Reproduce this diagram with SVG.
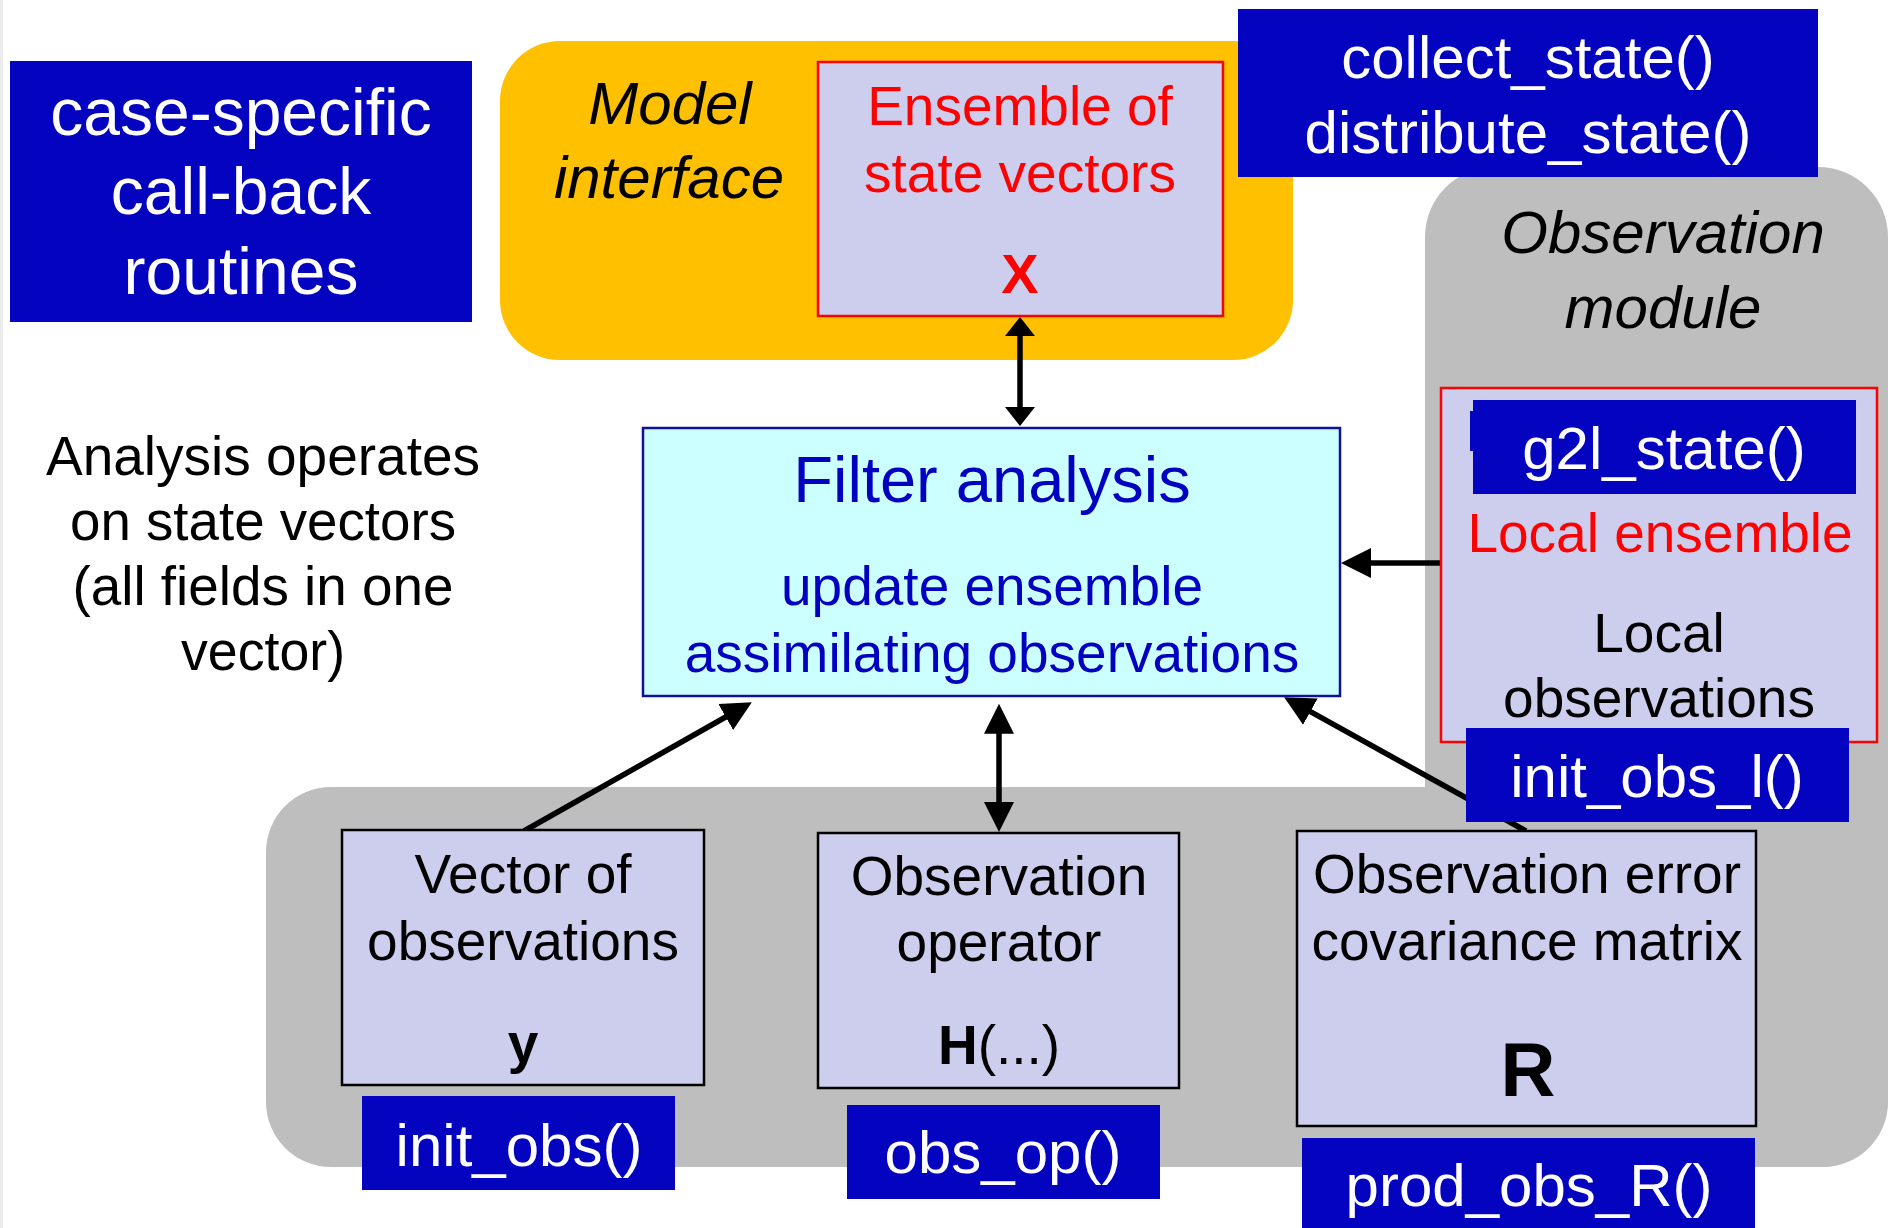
<svg xmlns="http://www.w3.org/2000/svg" width="1890" height="1228" viewBox="0 0 1890 1228">
<style>
text{font-family:"Liberation Sans",Arial,sans-serif;text-anchor:middle}
.cb{fill:#0303C0}
.cbt{fill:#fff;font-size:60px}
.redbox{fill:#CDCDED;stroke:#FF0000;stroke-width:2.5}
.blkbox{fill:#CDCDED;stroke:#000;stroke-width:2.5}
.t55{font-size:55px;fill:#000}
.it{font-style:italic;font-size:60px;fill:#000}
.red{fill:#FF0000}
.blue{fill:#0000C0}
.gray{fill:#BEBEBE}
.conn{stroke:#000;stroke-width:5.5;fill:none}
</style>
<defs>
<marker id="ah" markerUnits="userSpaceOnUse" markerWidth="32" markerHeight="32" viewBox="0 0 32 32" refX="1" refY="16" orient="auto-start-reverse"><path d="M0,1 L30,16 L0,31 z" fill="#000"/></marker>
<marker id="ahs" markerUnits="userSpaceOnUse" markerWidth="32" markerHeight="32" viewBox="0 0 32 32" refX="1" refY="16" orient="auto-start-reverse"><path d="M0,1 L19,16 L0,31 z" fill="#000"/></marker>
</defs>
<rect x="0" y="0" width="1890" height="1228" fill="#fff"/>
<rect x="0" y="0" width="3" height="1228" fill="#ECECEC"/>

<g id="model-interface">
<rect x="500" y="41" width="793" height="319" rx="60" fill="#FFC000"/>
<text class="it" x="670" y="124">Model</text>
<text class="it" x="669" y="198">interface</text>
</g>

<g id="observation-module">
<rect class="gray" x="1425" y="167" width="463" height="1000" rx="70"/>
<rect class="gray" x="266" y="787" width="1622" height="380" rx="65"/>
<text class="it" x="1663" y="253">Observation</text>
<text class="it" x="1663" y="328">module</text>
</g>

<g id="connectors">
<line class="conn" x1="1020" y1="335" x2="1020" y2="408" marker-start="url(#ahs)" marker-end="url(#ahs)"/>
<line class="conn" x1="1441" y1="563" x2="1370" y2="563" marker-end="url(#ah)"/>
<line class="conn" x1="524" y1="831" x2="726.6" y2="716.5" marker-end="url(#ah)"/>
<line class="conn" x1="999" y1="732.7" x2="999" y2="803" marker-start="url(#ah)" marker-end="url(#ah)"/>
<line class="conn" x1="1526" y1="831" x2="1309.5" y2="711.2" marker-end="url(#ah)"/>
</g>

<g id="callback-label">
<rect class="cb" x="10" y="61" width="462" height="261"/>
<text fill="#fff" font-size="66" x="241" y="135">case-specific</text>
<text fill="#fff" font-size="66" x="241" y="214">call-back</text>
<text fill="#fff" font-size="66" x="241" y="294">routines</text>
</g>

<g id="ensemble-state">
<rect class="redbox" x="818" y="62" width="405" height="254"/>
<text class="red" font-size="55" x="1020" y="125">Ensemble of</text>
<text class="red" font-size="55" x="1020" y="192">state vectors</text>
<text class="red" font-size="56" font-weight="bold" x="1020" y="293">X</text>
</g>

<g id="collect-distribute">
<rect class="cb" x="1238" y="9" width="580" height="168"/>
<text class="cbt" x="1528" y="78">collect_state()</text>
<text class="cbt" x="1528" y="153">distribute_state()</text>
</g>

<g id="analysis-note">
<text class="t55" x="263" y="475" textLength="434" lengthAdjust="spacingAndGlyphs">Analysis operates</text>
<text class="t55" x="263" y="540" textLength="386" lengthAdjust="spacingAndGlyphs">on state vectors</text>
<text class="t55" x="263" y="605" textLength="381" lengthAdjust="spacingAndGlyphs">(all fields in one</text>
<text class="t55" x="263" y="670" textLength="164" lengthAdjust="spacingAndGlyphs">vector)</text>
</g>

<g id="filter-analysis">
<rect x="643" y="428" width="697" height="268" fill="#CCFFFF" stroke="#10109A" stroke-width="2.5"/>
<text class="blue" font-size="65" x="992" y="502">Filter analysis</text>
<text class="blue" font-size="55" x="992" y="605">update ensemble</text>
<text class="blue" font-size="55" x="992" y="672">assimilating observations</text>
</g>

<g id="local-box">
<rect class="redbox" x="1441" y="388" width="436" height="354"/>
<rect class="cb" x="1473" y="400" width="383" height="94"/>
<rect class="cb" x="1470" y="411" width="5" height="40"/>
<text class="cbt" x="1664" y="469">g2l_state()</text>
<text class="red" font-size="55" x="1660" y="552">Local ensemble</text>
<text class="t55" x="1659" y="652">Local</text>
<text class="t55" x="1659" y="717">observations</text>
</g>

<g id="init-obs-l">
<rect class="cb" x="1466" y="728" width="383" height="94"/>
<text class="cbt" x="1657" y="797">init_obs_l()</text>
</g>

<g id="vector-obs">
<rect class="blkbox" x="342" y="830" width="362" height="255"/>
<text class="t55" x="523" y="893">Vector of</text>
<text class="t55" x="523" y="960">observations</text>
<text class="t55" font-weight="bold" x="523" y="1062">y</text>
</g>

<g id="init-obs">
<rect class="cb" x="362" y="1096" width="313" height="94"/>
<text class="cbt" x="519" y="1166">init_obs()</text>
</g>

<g id="obs-operator">
<rect class="blkbox" x="818" y="833" width="361" height="255"/>
<text class="t55" x="999" y="895">Observation</text>
<text class="t55" x="999" y="961">operator</text>
<text class="t55" x="999" y="1064"><tspan font-weight="bold">H</tspan>(...)</text>
</g>

<g id="obs-op">
<rect class="cb" x="847" y="1105" width="313" height="94"/>
<text class="cbt" x="1003" y="1173">obs_op()</text>
</g>

<g id="obs-error">
<rect class="blkbox" x="1297" y="831" width="459" height="295"/>
<text class="t55" x="1527" y="893">Observation error</text>
<text class="t55" x="1527" y="960">covariance matrix</text>
<text style="font-size:76px;font-weight:bold;fill:#000" x="1528" y="1096">R</text>
</g>

<g id="prod-obs-r">
<rect class="cb" x="1302" y="1138" width="453" height="95"/>
<text class="cbt" x="1529" y="1206">prod_obs_R()</text>
</g>
</svg>
